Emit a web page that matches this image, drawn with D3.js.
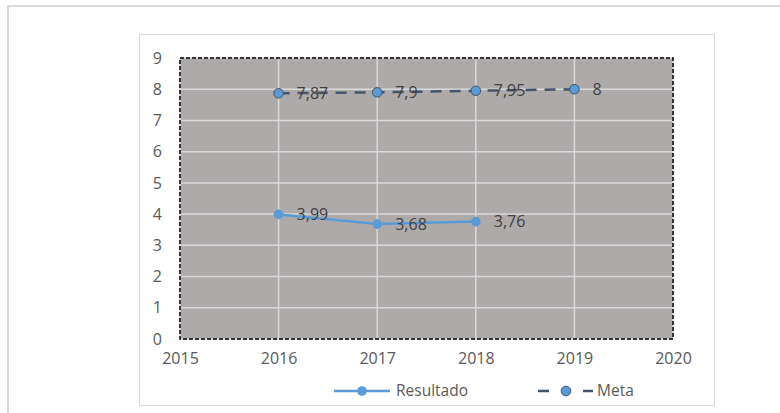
<!DOCTYPE html>
<html><head><meta charset="utf-8">
<script src="https://cdn.jsdelivr.net/npm/d3@7"></script>
<style>body{margin:0;background:#fff;}svg{display:block;font-family:"Open Sans",sans-serif;}</style>
</head><body><svg id="c" width="780" height="413"></svg>
<script>
const years = [2016, 2017, 2018, 2019];
const resultadoYears = [2016, 2017, 2018];
const resultado = [3.99, 3.68, 3.76];
const resultadoLabels = ["3,99", "3,68", "3,76"];
const meta = [7.87, 7.9, 7.95, 8];
const metaLabels = ["7,87", "7,9", "7,95", "8"];
const xTicks = [2015, 2016, 2017, 2018, 2019, 2020];
const yTicks = [0,1,2,3,4,5,6,7,8,9];

const svg = d3.select("#c");
// outer frame
svg.append("rect").attr("x",8).attr("y",6).attr("width",800).attr("height",430)
  .attr("fill","#fff").attr("stroke","#d9d9d9").attr("stroke-width",2);
// chart box
svg.append("rect").attr("x",139.5).attr("y",34.5).attr("width",575).attr("height",371)
  .attr("fill","#fff").attr("stroke","#d9d9d9").attr("stroke-width",1);

const L=180, R=673, T=58, B=339;
const x = d3.scaleLinear().domain([2015,2020]).range([L,R]);
const y = d3.scaleLinear().domain([0,9]).range([B,T]);

svg.append("rect").attr("x",L).attr("y",T).attr("width",R-L).attr("height",B-T).attr("fill","#aeaaaa");
const g = svg.append("g");
g.selectAll(".hg").data(yTicks).enter().append("line")
  .attr("x1",L).attr("x2",R).attr("y1",d=>y(d)).attr("y2",d=>y(d))
  .attr("stroke","#d9d9d9").attr("stroke-width",1.5);
g.selectAll(".vg").data(xTicks).enter().append("line")
  .attr("x1",d=>x(d)).attr("x2",d=>x(d)).attr("y1",T).attr("y2",B)
  .attr("stroke","#d9d9d9").attr("stroke-width",1.5);
// dashed border
svg.append("rect").attr("x",L).attr("y",T).attr("width",R-L).attr("height",B-T)
  .attr("fill","none").attr("stroke","#000").attr("stroke-width",1.5).attr("stroke-dasharray","4,2");

// axes labels
const yAxis = d3.axisLeft(y).tickValues(yTicks).tickSize(0).tickPadding(18);
const ya = svg.append("g").attr("transform",`translate(${L},0)`).call(yAxis);
const xAxis = d3.axisBottom(x).tickValues(xTicks).tickFormat(d3.format("d")).tickSize(0).tickPadding(14);
const xa = svg.append("g").attr("transform",`translate(0,${B})`).call(xAxis);
[ya,xa].forEach(a=>{a.select(".domain").remove();
  a.selectAll("text").attr("fill","#595959").style("font-size","16px").style("font-family","'Open Sans',sans-serif");});

// Meta series
const lineM = d3.line().x((d,i)=>x(years[i])).y(d=>y(d));
svg.append("path").datum(meta).attr("d",lineM).attr("fill","none")
  .attr("stroke","#44546a").attr("stroke-width",2.5).attr("stroke-dasharray","11,8");
svg.selectAll(".mm").data(meta).enter().append("circle")
  .attr("cx",(d,i)=>x(years[i])).attr("cy",d=>y(d)).attr("r",4.8)
  .attr("fill","#5b9bd5").attr("stroke","#44546a").attr("stroke-width",1);

// Resultado series
const lineR = d3.line().x((d,i)=>x(resultadoYears[i])).y(d=>y(d));
svg.append("path").datum(resultado).attr("d",lineR).attr("fill","none")
  .attr("stroke","#5b9bd5").attr("stroke-width",2.5);
svg.selectAll(".rm").data(resultado).enter().append("circle")
  .attr("cx",(d,i)=>x(resultadoYears[i])).attr("cy",d=>y(d)).attr("r",4.8)
  .attr("fill","#5b9bd5");

// labels
const lab = (data, xs, labels) => svg.selectAll(null).data(data).enter().append("text")
  .attr("x",(d,i)=>x(xs[i])+18).attr("y",d=>y(d)).attr("dy","0.35em")
  .attr("fill","#404040").style("font-size","16px").text((d,i)=>labels[i]);
lab(meta, years, metaLabels);
lab(resultado, resultadoYears, resultadoLabels);

// legend
const ly = 391;
svg.append("line").attr("x1",334).attr("x2",390).attr("y1",ly).attr("y2",ly).attr("stroke","#5b9bd5").attr("stroke-width",2.5);
svg.append("circle").attr("cx",362).attr("cy",ly).attr("r",4.8).attr("fill","#5b9bd5");
svg.append("text").attr("x",396).attr("y",ly).attr("dy","0.35em").attr("fill","#595959").style("font-size","15.5px").text("Resultado");
svg.append("line").attr("x1",538).attr("x2",549).attr("y1",ly).attr("y2",ly).attr("stroke","#44546a").attr("stroke-width",2.5);
svg.append("line").attr("x1",583).attr("x2",593).attr("y1",ly).attr("y2",ly).attr("stroke","#44546a").attr("stroke-width",2.5);
svg.append("circle").attr("cx",566).attr("cy",ly).attr("r",4.8).attr("fill","#5b9bd5").attr("stroke","#44546a").attr("stroke-width",1);
svg.append("text").attr("x",597).attr("y",ly).attr("dy","0.35em").attr("fill","#595959").style("font-size","15.5px").text("Meta");
</script></body></html>
